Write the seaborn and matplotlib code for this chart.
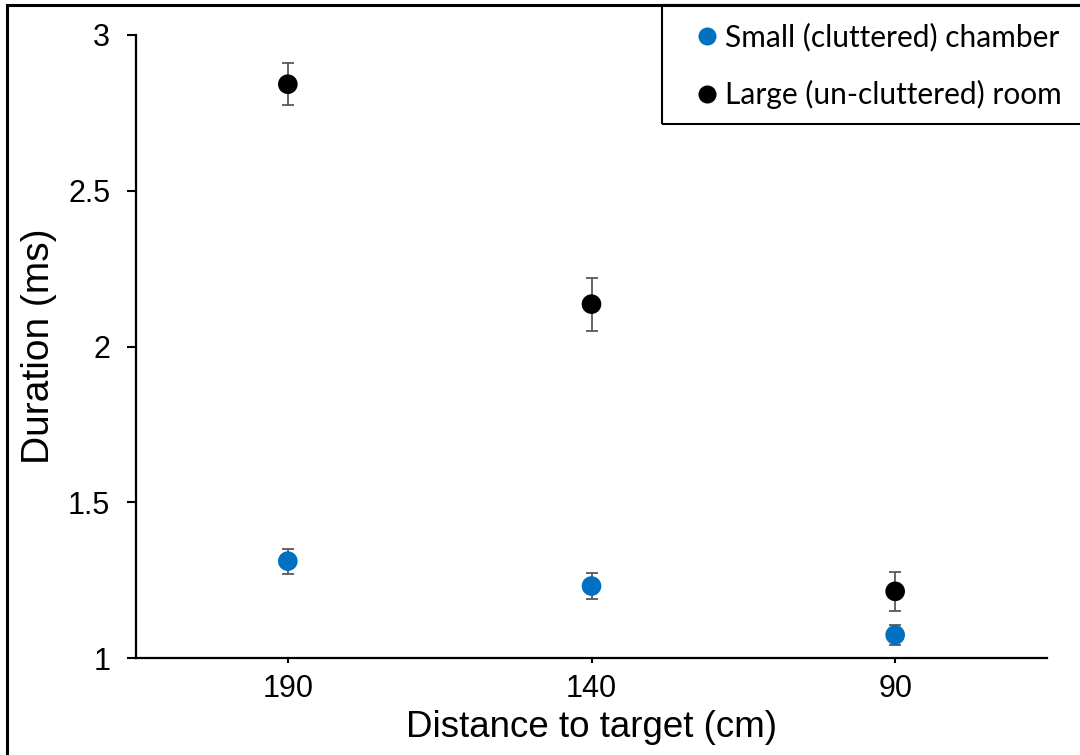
import matplotlib
matplotlib.use("Agg")
import matplotlib.pyplot as plt
import seaborn as sns
import pandas as pd
import numpy as np
from matplotlib.lines import Line2D
from matplotlib.patches import Rectangle

distances = ["190", "140", "90"]
small_mean = [1.311, 1.231, 1.074]
small_err = [0.040, 0.043, 0.032]
large_mean = [2.842, 2.136, 1.214]
large_err = [0.068, 0.085, 0.062]
series_names = ["Small (cluttered) chamber", "Large (un-cluttered) room"]
colors = ["#0070C0", "#000000"]
yticks = [1, 1.5, 2, 2.5, 3]

df = pd.DataFrame({
    "Distance": distances * 2,
    "Duration": small_mean + large_mean,
    "Err": small_err + large_err,
    "Condition": [series_names[0]] * 3 + [series_names[1]] * 3,
})

sns.set_theme(style="white")
plt.rcParams["font.family"] = ["Liberation Sans", "DejaVu Sans"]
plt.rcParams["text.color"] = "black"
plt.rcParams["axes.labelcolor"] = "black"

W, H = 1080, 755
fig = plt.figure(figsize=(10.8, 7.55), dpi=100)
ax = fig.add_axes([136 / W, 1 - 658 / H, (1047 - 136) / W, (658 - 35) / H])

for name, col in zip(series_names, colors):
    sub = df[df["Condition"] == name]
    ax.errorbar(sub["Distance"], sub["Duration"], yerr=sub["Err"], fmt="none",
                ecolor="#595959", elinewidth=1.3, capsize=4.5, capthick=1.3, zorder=2)

sns.scatterplot(data=df, x="Distance", y="Duration", hue="Condition",
                palette=colors, s=200, edgecolor="none", ax=ax, zorder=3, legend=False)

ax.set_xlim(-0.5, 2.5)
ax.set_ylim(1, 3)
ax.set_yticks(yticks)
ax.set_yticklabels([f"{t:g}" for t in yticks])
ax.set_xlabel("Distance to target (cm)", fontsize=26.5, labelpad=4)
ax.set_ylabel("Duration (ms)", fontsize=28, labelpad=8)
ax.tick_params(axis="both", labelsize=22, colors="black", direction="out", width=1.5)
ax.tick_params(axis="y", length=6.5, pad=12, left=True)
ax.tick_params(axis="x", length=3.5, pad=8, bottom=True)
for s in ["top", "right"]:
    ax.spines[s].set_visible(False)
for s in ["left", "bottom"]:
    ax.spines[s].set_color("black")
    ax.spines[s].set_linewidth(1.6)
ax.grid(False)

# legend frame box (top-right corner of the figure)
top_px = 5
fig.patches.append(Rectangle((662 / W, 1 - 124 / H), (1100 - 662) / W, (124 - top_px) / H,
                             transform=fig.transFigure, fill=False, edgecolor="black",
                             linewidth=1.5, zorder=1, clip_on=False))

handles = [Line2D([], [], marker="o", linestyle="none", markersize=13,
                  markerfacecolor=c, markeredgecolor="none") for c in colors]
leg = fig.legend(handles, series_names, loc="upper left",
                 bbox_to_anchor=(687.5 / W, 1 - 10.4 / H),
                 bbox_transform=fig.transFigure, frameon=False,
                 prop={"family": "Lato", "size": 21.5}, handlelength=0.5,
                 handletextpad=0.35, labelspacing=0.97, borderpad=0.4, borderaxespad=0)

# outer figure border (left and top edges visible)
fig.patches.append(Rectangle((7 / W, -0.5), 2, 0.5 + 1 - top_px / H, transform=fig.transFigure,
                             fill=False, edgecolor="black", linewidth=2.2, zorder=0))

fig.savefig("out.png", dpi=100)
